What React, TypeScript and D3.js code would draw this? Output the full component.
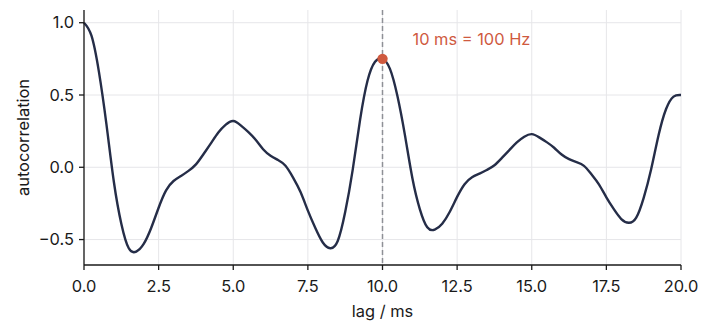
import React from "react";
import * as d3 from "d3";

const lags: number[] = [
  0, 0.25, 0.5, 0.75, 1, 1.25, 1.5, 1.75, 2, 2.25, 2.5, 2.75, 3, 3.25, 3.5, 3.75,
  4, 4.25, 4.5, 4.75, 5, 5.25, 5.5, 5.75, 6, 6.25, 6.5, 6.75, 7, 7.25, 7.5, 7.75,
  8, 8.25, 8.5, 8.75, 9, 9.25, 9.5, 9.75, 10, 10.25, 10.5, 10.75, 11, 11.25, 11.5,
  11.75, 12, 12.25, 12.5, 12.75, 13, 13.25, 13.5, 13.75, 14, 14.25, 14.5, 14.75, 15,
  15.25, 15.5, 15.75, 16, 16.25, 16.5, 16.75, 17, 17.25, 17.5, 17.75, 18, 18.25,
  18.5, 18.75, 19, 19.25, 19.5, 19.75, 20,
];

const autocorr: number[] = [
  1.0, 0.91, 0.66, 0.3, -0.1, -0.39, -0.56, -0.583, -0.53, -0.42, -0.28, -0.16,
  -0.095, -0.06, -0.025, 0.02, 0.09, 0.165, 0.24, 0.295, 0.32, 0.29, 0.245, 0.19,
  0.125, 0.08, 0.05, 0.01, -0.07, -0.17, -0.3, -0.42, -0.52, -0.56, -0.51, -0.31,
  -0.02, 0.33, 0.6, 0.73, 0.75, 0.681, 0.493, 0.224, -0.074, -0.289, -0.415,
  -0.431, -0.39, -0.309, -0.205, -0.117, -0.069, -0.044, -0.018, 0.014, 0.065,
  0.119, 0.172, 0.211, 0.229, 0.207, 0.174, 0.135, 0.088, 0.056, 0.035, 0.01,
  -0.049, -0.118, -0.208, -0.29, -0.358, -0.384, -0.348, -0.211, -0.014, 0.223,
  0.403, 0.489, 0.5,
];

const xTicks: number[] = [0, 2.5, 5, 7.5, 10, 12.5, 15, 17.5, 20];
const yTicks: number[] = [-0.5, 0, 0.5, 1.0];
const markerLag: number[] = [10];
const markerValue: number[] = [0.75];
const annotationText = "10 ms = 100 Hz";
const xLabel = "lag / ms";
const yLabel = "autocorrelation";

const W = 709;
const H = 333;
const left = 84;
const right = 681;
const top = 10;
const bottom = 265;
const FONT = "Inter, 'Noto Sans', sans-serif";
const FS = 16.4;
const INK = "#1a1a1a";
const LINE = "#252d48";
const ACCENT = "#cf5a3f";

export default function App() {
  const x = d3.scaleLinear().domain([0, 20]).range([left, right]);
  const y = d3.scaleLinear().domain([-0.676, 1.088]).range([bottom, top]);
  const pts = lags.map((l, i) => [l, autocorr[i]] as [number, number]);
  const line = d3
    .line<[number, number]>()
    .x((d) => x(d[0]))
    .y((d) => y(d[1]))
    .curve(d3.curveNatural);

  return (
    <svg
      width={W}
      height={H}
      style={{ position: "absolute", left: 0, top: 0, background: "#fff" }}
      fontFamily={FONT}
    >
      {xTicks.map((t) => (
        <line key={"gx" + t} x1={x(t)} x2={x(t)} y1={top} y2={bottom} stroke="#e6e6e9" strokeWidth={1} />
      ))}
      {yTicks.map((t) => (
        <line key={"gy" + t} x1={left} x2={right} y1={y(t)} y2={y(t)} stroke="#e6e6e9" strokeWidth={1} />
      ))}
      <line
        x1={x(markerLag[0])}
        x2={x(markerLag[0])}
        y1={top}
        y2={bottom}
        stroke="#8e9096"
        strokeWidth={1.5}
        strokeDasharray="5,3"
      />
      <path d={line(pts) || ""} fill="none" stroke={LINE} strokeWidth={2.4} strokeLinejoin="round" />
      <circle cx={x(markerLag[0])} cy={y(markerValue[0])} r={5.2} fill={ACCENT} />
      <text x={x(markerLag[0]) + 30} y={44.5} fontSize={FS} fill={ACCENT}>
        {annotationText}
      </text>
      {/* axes */}
      <line x1={left} x2={left} y1={top} y2={bottom} stroke={INK} strokeWidth={1.3} />
      <line x1={left} x2={right} y1={bottom} y2={bottom} stroke={INK} strokeWidth={1.3} />
      {xTicks.map((t) => (
        <g key={"tx" + t}>
          <line x1={x(t)} x2={x(t)} y1={bottom} y2={bottom + 5} stroke={INK} strokeWidth={1.3} />
          <text x={x(t)} y={292} fontSize={FS} textAnchor="middle" fill={INK}>
            {t.toFixed(1)}
          </text>
        </g>
      ))}
      {yTicks.map((t) => (
        <g key={"ty" + t}>
          <line x1={left - 5} x2={left} y1={y(t)} y2={y(t)} stroke={INK} strokeWidth={1.3} />
          <text x={left - 10} y={y(t)} dy="0.35em" fontSize={FS} textAnchor="end" fill={INK}>
            {t < 0 ? "\u2212" + Math.abs(t).toFixed(1) : t.toFixed(1)}
          </text>
        </g>
      ))}
      <text x={(left + right) / 2} y={317} fontSize={FS} textAnchor="middle" fill={INK}>
        {xLabel}
      </text>
      <text
        transform={`translate(29,${(top + bottom) / 2}) rotate(-90)`}
        fontSize={FS}
        textAnchor="middle"
        fill={INK}
      >
        {yLabel}
      </text>
    </svg>
  );
}
